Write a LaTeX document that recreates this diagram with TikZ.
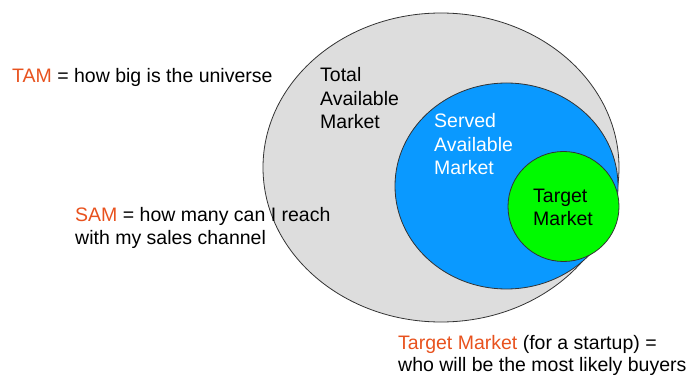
\documentclass[tikz,border=0pt]{standalone}
\usepackage{fontspec}
\setmainfont{Liberation Sans}
\usetikzlibrary{shapes.geometric}

\definecolor{tamgray}{RGB}{221,221,221}
\definecolor{samblue}{RGB}{10,153,255}
\definecolor{tmgreen}{RGB}{0,250,0}
\definecolor{accent}{RGB}{232,82,30}

\begin{document}
\begin{tikzpicture}
[x=1pt,y=-1pt,%
  market/.style={shape=ellipse,inner sep=0pt,draw=black!80,line width=0.8pt},%
  label/.style={anchor=base west,inner sep=0pt,align=left,%
    font=\fontsize{19.5}{23.5}\selectfont}]
\useasboundingbox (0,0) rectangle (689,377);
% the three markets
\node[market,fill=tamgray,minimum width=356pt,minimum height=309pt] (tam) at (441,167.5) {};
\node[market,fill=samblue,minimum width=223pt,minimum height=206pt] (sam) at (506.5,186) {};
\node[market,fill=tmgreen,minimum width=111pt,minimum height=110pt] (tm) at (563.5,206.5) {};
% labels inside (base = last line)
\node[label] (tamtext) at (320,129) {Total\\Available\\Market};
\node[label,text=white] (samtext) at (434,175) {Served\\Available\\Market};
\node[label] (tmtext) at (533,226) {Target\\Market};
% explanations
\node[label] (tamdef) at (12,83) {\textcolor{accent}{TAM} = how big is the universe};
\node[label] (samdef) at (75,245) {\textcolor{accent}{SAM} = how many can I reach\\with my sales channel};
\node[label,font=\fontsize{19.5}{22}\selectfont] (tmdef) at (398,371) {\textcolor{accent}{Target Market} (for a startup) =\\who will be the most likely buyers};
\end{tikzpicture}
\end{document}
